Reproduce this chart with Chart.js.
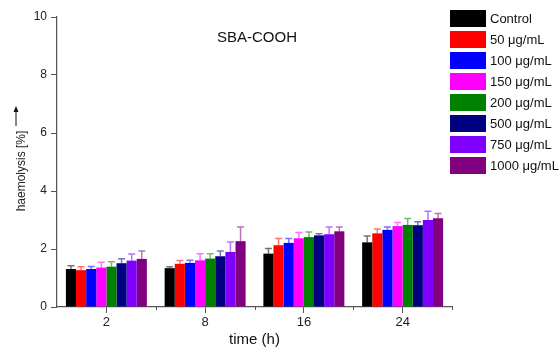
<!DOCTYPE html>
<html>
<head>
<meta charset="utf-8">
<script src="https://cdn.jsdelivr.net/npm/chart.js@4.4.0/dist/chart.umd.min.js"></script>
<style>
  body { margin: 0; background: #fff; }
  #wrap { position: relative; width: 560px; height: 353px; }
  #legend { position: absolute; left: 450px; top: 10px; font-family: "Liberation Sans", Arial, sans-serif; font-size: 13px; color: #111; }
  .row { position: absolute; left: 0; height: 17px; white-space: nowrap; }
  .box { position: absolute; left: 0; top: 0; width: 36px; height: 17px; }
  .lbl { position: absolute; left: 40px; top: 0; line-height: 17px; }
</style>
</head>
<body>
<div id="wrap">
  <canvas id="chart" width="560" height="353"></canvas>
  <div id="legend"></div>
</div>
<script>
// --- data ---
const times = ['2', '8', '16', '24'];
const seriesNames = ['Control', '50 \u03bcg/mL', '100 \u03bcg/mL', '150 \u03bcg/mL', '200 \u03bcg/mL', '500 \u03bcg/mL', '750 \u03bcg/mL', '1000 \u03bcg/mL'];
const seriesColors = ['#000000', '#ff0000', '#0000ff', '#ff00ff', '#008000', '#000080', '#7f00ff', '#800080'];
const yTicks = [0, 2, 4, 6, 8, 10];

// mean haemolysis (%) per time point
const control = [1.31, 1.34, 1.84, 2.23];
const c50 = [1.27, 1.49, 2.13, 2.54];
const c100 = [1.31, 1.52, 2.21, 2.66];
const c150 = [1.36, 1.61, 2.37, 2.79];
const c200 = [1.39, 1.67, 2.41, 2.83];
const c500 = [1.51, 1.75, 2.47, 2.82];
const c750 = [1.60, 1.90, 2.51, 3.00];
const c1000 = [1.66, 2.27, 2.61, 3.06];

// error (upper only)
const errControl = [0.11, 0.05, 0.18, 0.22];
const err50 = [0.12, 0.11, 0.23, 0.15];
const err100 = [0.09, 0.09, 0.15, 0.10];
const err150 = [0.18, 0.23, 0.20, 0.12];
const err200 = [0.17, 0.17, 0.18, 0.22];
const err500 = [0.15, 0.18, 0.06, 0.12];
const err750 = [0.23, 0.34, 0.25, 0.30];
const err1000 = [0.27, 0.49, 0.15, 0.16];

const means = [control, c50, c100, c150, c200, c500, c750, c1000];
const errs = [errControl, err50, err100, err150, err200, err500, err750, err1000];

const FONT = '"Liberation Sans", Arial, sans-serif';

function hexToRgba(hex, a) {
  const n = parseInt(hex.slice(1), 16);
  return `rgba(${(n >> 16) & 255},${(n >> 8) & 255},${n & 255},${a})`;
}

// --- error bars ---
const errorBars = {
  id: 'errorBars',
  afterDatasetsDraw(chart) {
    const c = chart.ctx;
    const y = chart.scales.y;
    chart.data.datasets.forEach((ds, di) => {
      const meta = chart.getDatasetMeta(di);
      meta.data.forEach((bar, i) => {
        const top = y.getPixelForValue(ds.data[i] + errs[di][i]);
        c.save();
        c.strokeStyle = hexToRgba(seriesColors[di], 0.55);
        c.lineWidth = 1.5;
        c.beginPath();
        c.moveTo(bar.x, bar.y);
        c.lineTo(bar.x, top);
        c.moveTo(bar.x - 3.5, top);
        c.lineTo(bar.x + 3.5, top);
        c.stroke();
        c.restore();
      });
    });
  }
};

// --- texts, arrow, minor ticks ---
const extras = {
  id: 'extras',
  afterDraw(chart) {
    const c = chart.ctx;
    const area = chart.chartArea;
    const x = chart.scales.x;
    const half = (x.getPixelForValue(1) - x.getPixelForValue(0)) / 2;

    c.save();
    // minor ticks on x axis
    c.strokeStyle = '#555';
    c.lineWidth = 1;
    c.beginPath();
    for (let i = 0; i < times.length; i++) {
      const px = Math.round(x.getPixelForValue(i) + half) + 0.5;
      c.moveTo(px, area.bottom);
      c.lineTo(px, area.bottom + 3);
    }
    c.stroke();

    // title
    c.fillStyle = '#111';
    c.font = '15px ' + FONT;
    c.textAlign = 'center';
    c.textBaseline = 'middle';
    c.fillText('SBA-COOH', 257, 38);

    // y title with arrow
    c.save();
    c.translate(22, 171);
    c.rotate(-Math.PI / 2);
    c.font = '12px ' + FONT;
    c.fillStyle = '#222';
    c.fillText('haemolysis [%]', 0, 0);
    c.restore();

    c.strokeStyle = '#111';
    c.lineWidth = 1;
    c.beginPath();
    c.moveTo(16, 126);
    c.lineTo(16, 110);
    c.stroke();
    c.fillStyle = '#111';
    c.beginPath();
    c.moveTo(16, 106);
    c.lineTo(13.5, 112);
    c.lineTo(18.5, 112);
    c.closePath();
    c.fill();
    c.restore();
  }
};

new Chart(document.getElementById('chart'), {
  type: 'bar',
  data: {
    labels: times,
    datasets: means.map((m, i) => ({
      label: seriesNames[i],
      data: m,
      backgroundColor: seriesColors[i],
      borderWidth: 0,
      categoryPercentage: 0.82,
      barPercentage: 1
    }))
  },
  options: {
    responsive: false,
    devicePixelRatio: 1,
    animation: false,
    layout: { padding: { left: 0, top: 17, right: 108, bottom: 0 } },
    plugins: {
      legend: { display: false },
      tooltip: { enabled: false }
    },
    scales: {
      x: {
        afterFit(scale) { scale.height = 46; },
        grid: { display: true, drawOnChartArea: false, offset: false, tickLength: 6, color: '#555', tickWidth: 1 },
        border: { display: true, color: '#555', width: 1.2 },
        ticks: { color: '#222', font: { family: FONT, size: 13 }, padding: 2 },
        title: { display: true, text: 'time (h)', color: '#111', font: { family: FONT, size: 15 }, padding: { top: 0 } }
      },
      y: {
        min: 0,
        max: 10,
        afterFit(scale) { scale.width = 57; },
        afterBuildTicks(scale) { scale.ticks = yTicks.map(v => ({ value: v })); },
        grid: { display: true, drawOnChartArea: false, tickLength: 6, color: '#555', tickWidth: 1 },
        border: { display: true, color: '#555', width: 1.2 },
        ticks: { color: '#222', font: { family: FONT, size: 12 }, padding: 4 }
      }
    }
  },
  plugins: [errorBars, extras]
});

// legend
const legend = document.getElementById('legend');
seriesNames.forEach((name, i) => {
  const row = document.createElement('div');
  row.className = 'row';
  row.style.top = (i * 21) + 'px';
  row.innerHTML = `<div class="box" style="background:${seriesColors[i]}"></div><div class="lbl">${name}</div>`;
  legend.appendChild(row);
});
</script>
</body>
</html>
